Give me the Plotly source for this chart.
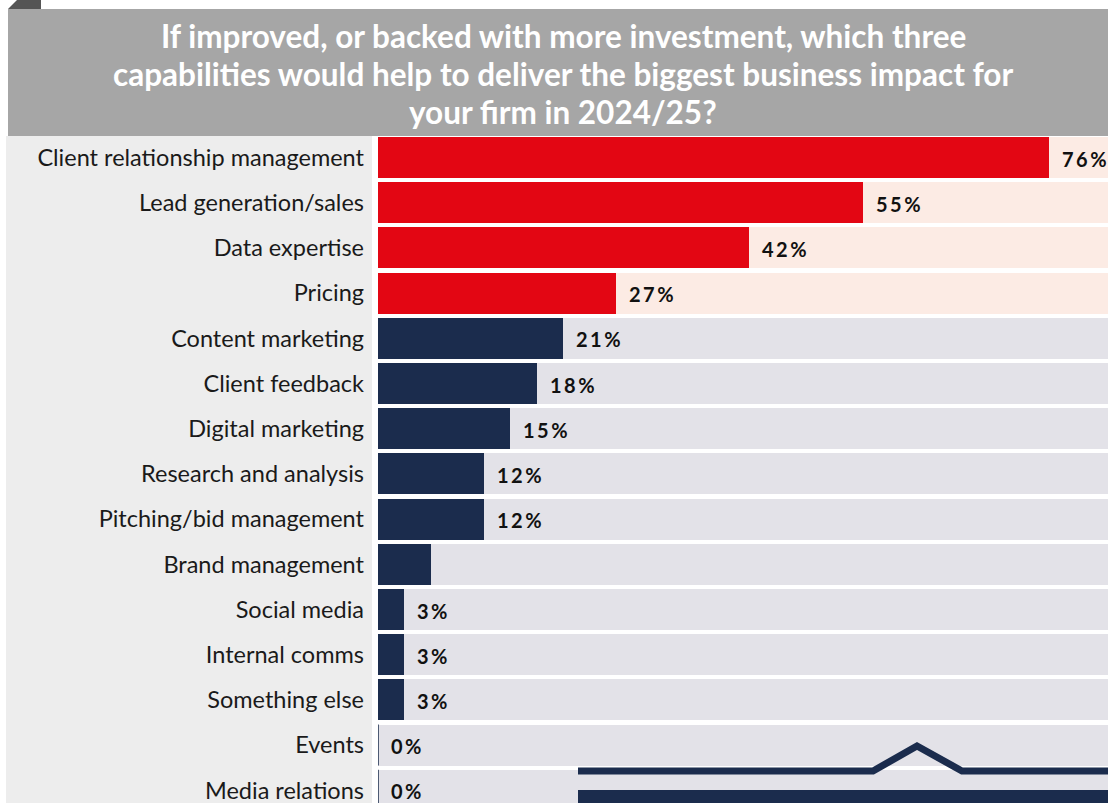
import plotly.graph_objects as go

# Survey results: share of firms naming each capability (%)
categories = [
    "Client relationship management",
    "Lead generation/sales",
    "Data expertise",
    "Pricing",
    "Content marketing",
    "Client feedback",
    "Digital marketing",
    "Research and analysis",
    "Pitching/bid management",
    "Brand management",
    "Social media",
    "Internal comms",
    "Something else",
    "Events",
    "Media relations",
]
values = [76, 55, 42, 27, 21, 18, 15, 12, 12, 6, 3, 3, 3, 0, 0]
value_labels = ["76%", "55%", "42%", "27%", "21%", "18%", "15%", "12%", "12%",
                "", "3%", "3%", "3%", "0%", "0%"]
highlighted = 4  # top answers drawn in red

title_lines = [
    "If improved, or backed with more investment, which three",
    "capabilities would help to deliver the biggest business impact for",
    "your firm in 2024/25?",
]

W, H = 1108, 803
RED, NAVY = "#e30613", "#1b2c4d"
PINK_TRACK, GREY_TRACK = "#fcebe4", "#e3e2e8"
X_MAX = 82.7

n = len(categories)
pos = list(range(n))
bar_colors = [RED if i < highlighted else NAVY for i in pos]
track_colors = [PINK_TRACK if i < highlighted else GREY_TRACK for i in pos]


def px(x):
    return x / W


def py(y):
    return 1 - y / H


fig = go.Figure()

# full-width tracks behind every bar
fig.add_trace(go.Bar(
    x=[X_MAX] * n, y=pos, orientation="h", width=0.907,
    marker=dict(color=track_colors, line=dict(width=0)),
    hoverinfo="skip", showlegend=False,
))
# actual values
fig.add_trace(go.Bar(
    x=values, y=pos, orientation="h", width=0.907,
    marker=dict(color=bar_colors, line=dict(width=0)),
    hoverinfo="skip", showlegend=False,
))

spaced = lambda s: "\u2009".join(s)
annotations = []
for i, (v, lab) in enumerate(zip(values, value_labels)):
    if lab:
        annotations.append(dict(
            x=v, y=i, xref="x", yref="y", text="<b>" + spaced(lab) + "</b>",
            xanchor="left", yanchor="middle", xshift=11, yshift=-1, showarrow=False,
            font=dict(family="Lato", size=20, color="#111111"),
        ))

# title, one annotation per line for tight leading
for k, line in enumerate(title_lines):
    annotations.append(dict(
        x=px(563), y=py(36 + 38 * k), xref="paper", yref="paper",
        text="<b>" + line + "</b>",
        xanchor="center", yanchor="middle", showarrow=False,
        font=dict(family="Lato", size=31.5, color="#ffffff"),
    ))

shapes = [
    # title band and folded corner
    dict(type="rect", xref="paper", yref="paper", x0=px(8), x1=px(W),
         y0=py(136), y1=py(9), fillcolor="#a6a6a6", line=dict(width=0), layer="below"),
    dict(type="path", xref="paper", yref="paper",
         path=f"M {px(8)},{py(9)} L {px(17)},{py(0)} L {px(41)},{py(0)} L {px(41)},{py(9)} Z",
         fillcolor="#555555", line=dict(width=0), layer="below"),
    # label panel
    dict(type="rect", xref="paper", yref="paper", x0=px(6), x1=px(372),
         y0=py(H), y1=py(136), fillcolor="#ededed", line=dict(width=0), layer="below"),
    # footer ornament
    dict(type="path", xref="paper", yref="paper",
         path=(f"M {px(578)},{py(771)} L {px(873)},{py(771)} L {px(917)},{py(746)} "
               f"L {px(962)},{py(771)} L {px(W)},{py(771)}"),
         line=dict(color=NAVY, width=7), layer="above"),
    dict(type="rect", xref="paper", yref="paper", x0=px(578), x1=px(W),
         y0=py(H), y1=py(790), fillcolor=NAVY, line=dict(width=0), layer="above"),
]
# zero-valued rows keep a hairline at the baseline
for i, v in enumerate(values):
    if v == 0:
        shapes.append(dict(type="line", xref="x", yref="y", x0=0, x1=0,
                           y0=i - 0.4535, y1=i + 0.4535,
                           line=dict(color=NAVY, width=1.5)))

fig.update_layout(
    width=W, height=H,
    margin=dict(l=0, r=0, t=0, b=0),
    paper_bgcolor="#ffffff", plot_bgcolor="rgba(0,0,0,0)",
    barmode="overlay", bargap=0,
    showlegend=False,
    annotations=annotations,
    shapes=shapes,
    xaxis=dict(domain=[378 / W, 1], range=[0, X_MAX], showgrid=False,
               zeroline=False, showticklabels=False, fixedrange=True),
    yaxis=dict(domain=[0, 1], range=[(H - 157.5) / 45.2, -157.5 / 45.2],
               tickvals=pos, ticktext=categories, showgrid=False, zeroline=False,
               ticks="", ticklabelstandoff=13, ticklabeloverflow="allow",
               automargin=False,
               tickfont=dict(family="Lato", size=23.5, color="#1a1a1a"),
               fixedrange=True),
)

fig.write_html("out.html", config={"displayModeBar": False})
